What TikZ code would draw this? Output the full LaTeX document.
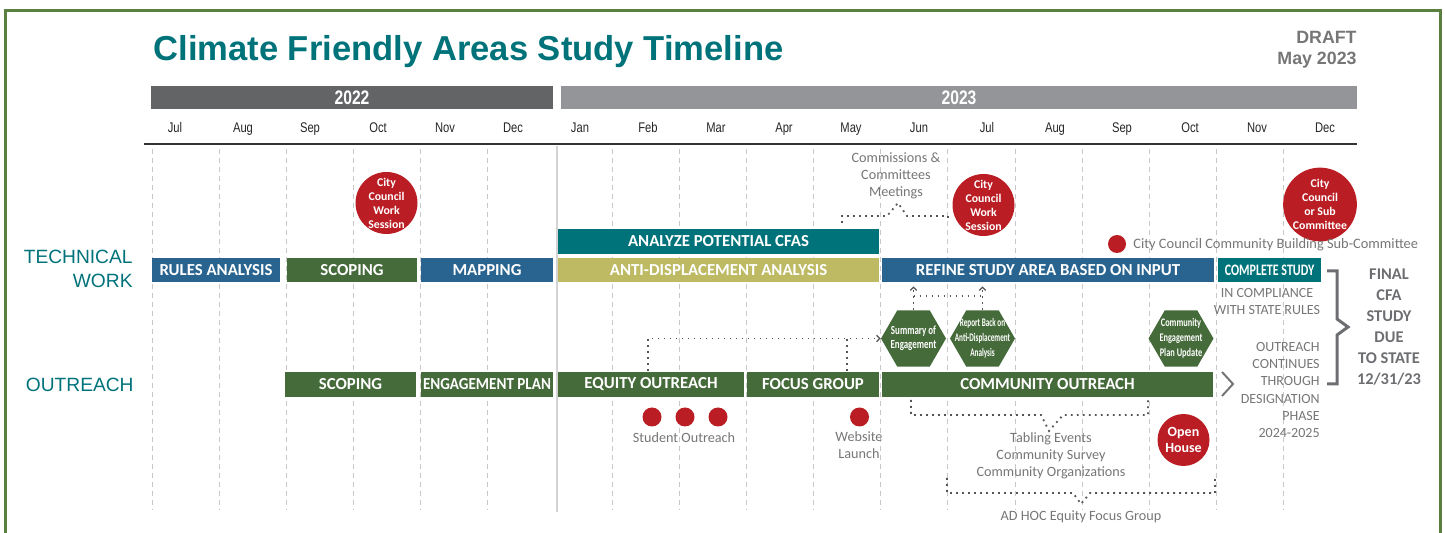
\documentclass[tikz,border=0pt]{standalone}
\usepackage{fontspec}
\setmainfont{Liberation Sans}
\newfontfamily\calfont{Carlito}
\newfontfamily\calnine[FakeStretch=0.9]{Carlito}
\newfontfamily\calcond[FakeStretch=0.75]{Carlito}
\newfontfamily\calhex[FakeStretch=0.72]{Carlito}
\newfontfamily\calxcond[FakeStretch=0.62]{Carlito}
\newfontfamily\arialnarrow[FakeStretch=0.8]{Liberation Sans}
\usetikzlibrary{shapes.geometric,arrows.meta}
\definecolor{cteal}{HTML}{00737A}
\definecolor{cblue}{HTML}{28648F}
\definecolor{cgreen}{HTML}{466B3A}
\definecolor{colive}{HTML}{BDBA63}
\definecolor{cred}{HTML}{BA1E24}
\definecolor{cyearA}{HTML}{636466}
\definecolor{cyearB}{HTML}{939598}
\definecolor{cgtext}{HTML}{767676}
\definecolor{cfinal}{HTML}{6D6E71}
\definecolor{cframe}{HTML}{5B7F3E}
\definecolor{cgrid}{HTML}{C8C8C8}
\definecolor{cdot}{HTML}{555555}
% [style]{name}{x1}{y1}{x2}{y2}{colour}{text}
\newcommand\tlbar[8][]{\node[barbox, #1, fill=#7, minimum width={(#5-#3)*0.5pt}, minimum height={(#6-#4)*0.5pt}] (#2) at ({(#3+#5)/2},{(#4+#6)/2}) {#8};}
\begin{document}
\begin{tikzpicture}[x=0.5pt,y=-0.5pt,
  barbox/.style={inner sep=0pt, text=white, font=\calfont\bfseries\fontsize{8.4}{10}\selectfont},
  yearbox/.style={font=\arialnarrow\bfseries\fontsize{9.8}{11}\selectfont},
  gridline/.style={draw=cgrid, line width=0.5pt, dash pattern=on 2.5pt off 2pt},
  monthlbl/.style={anchor=base, inner sep=0pt, text=black!85, font=\arialnarrow\fontsize{7}{8}\selectfont},
  redcirc/.style={circle, fill=cred, text=white, inner sep=0pt, align=center, minimum size=31pt,
    font=\calfont\bfseries\fontsize{5.9}{7}\selectfont},
  reddot/.style={circle, fill=cred, inner sep=0pt, minimum size=9.5pt},
  anno/.style={inner sep=0pt, text=cgtext, align=center, font=\calfont\fontsize{7.1}{8.4}\selectfont},
  hexa/.style={regular polygon, regular polygon sides=6, minimum size=32.5pt, fill=cgreen, inner sep=0pt},
  hextext/.style={inner sep=0pt, text=white, align=center},
  dotline/.style={draw=cdot, line width=0.9pt, dash pattern=on 0.9pt off 2.1pt},
  dottip/.style={-{Straight Barb[length=1.6pt,width=3.2pt,line width=0.6pt]}},
  rowlbl/.style={inner sep=0pt, text=cteal, align=right, font=\fontsize{9.6}{12}\selectfont}
]
\useasboundingbox (0,0) rectangle (1445,533);
% frame
\draw[cframe, line width=1.5pt] (5.5,545) -- (5.5,10.5) -- (1440.5,10.5) -- (1440.5,545);
% title
\node[anchor=base west, inner sep=0pt, text=cteal, font=\bfseries\fontsize{17.3}{20}\selectfont] (title) at (153,61) {Climate Friendly Areas Study Timeline};
\node[anchor=base east, inner sep=0pt, text=cgtext, font=\bfseries\fontsize{8.9}{10}\selectfont] (draft) at (1357,43.5) {DRAFT};
\node[anchor=base east, inner sep=0pt, text=cgtext, font=\bfseries\fontsize{8.9}{10}\selectfont] (dated) at (1357,65) {May 2023};
% year bars
\tlbar[yearbox]{y22}{151}{86}{553}{109}{cyearA}{2022}
\tlbar[yearbox]{y23}{561}{86}{1357}{109}{cyearB}{2023}
% months
\foreach \m/\x [count=\i] in {Jul/175,Aug/243,Sep/310,Oct/378,Nov/445,Dec/513,Jan/580,Feb/648,Mar/716,Apr/784,May/851,Jun/919,Jul/987,Aug/1055,Sep/1122,Oct/1190,Nov/1257,Dec/1325}
  \node[monthlbl] (mon\i) at (\x,132.5) {\m};
\draw[black!80, line width=1.1pt] (144,144) -- (1357,144);
% grid
\foreach \x in {152,219,286,353,420,487,612,679,746,813,880,947,1015,1082,1149,1216,1283}
  \draw[gridline] (\x,149) -- (\x,510);
\draw[draw=cgrid!80, line width=0.8pt] (557,146) -- (557,512);
% row labels
\node[rowlbl, anchor=east] (techlbl) at (133,269) {TECHNICAL\\WORK};
\node[rowlbl, anchor=east] (outlbl) at (134,385) {OUTREACH};
% technical bars
\tlbar{analyze}{558}{229}{879}{254}{cteal}{ANALYZE POTENTIAL CFAS}
\tlbar{rules}{152}{258}{280}{282}{cblue}{RULES ANALYSIS}
\tlbar{scopeA}{287}{258}{417}{282}{cgreen}{SCOPING}
\tlbar{mapping}{421}{258}{553}{282}{cblue}{MAPPING}
\tlbar{antidisp}{558}{258}{879}{282}{colive}{ANTI-DISPLACEMENT ANALYSIS}
\tlbar{refine}{882}{258}{1214}{282}{cblue}{REFINE STUDY AREA BASED ON INPUT}
\tlbar[font=\calcond\bfseries\fontsize{8}{10}\selectfont]{complete}{1218}{258}{1321}{282}{cteal}{COMPLETE STUDY}
% outreach bars
\tlbar{scopeB}{285}{372}{416}{397}{cgreen}{SCOPING}
\tlbar[font=\calnine\bfseries\fontsize{8.4}{10}\selectfont]{engplan}{421}{372}{553}{397}{cgreen}{ENGAGEMENT PLAN}
\tlbar{equity}{558}{372}{744}{397}{cgreen}{EQUITY OUTREACH}
\tlbar{focus}{747}{372}{879}{397}{cgreen}{FOCUS GROUP}
\tlbar{community}{882}{372}{1213}{397}{cgreen}{COMMUNITY OUTREACH}
% council circles
\node[redcirc] (ccA) at (386.5,203) {City\\Council\\Work\\Session};
\node[redcirc] (ccB) at (983.5,205) {City\\Council\\Work\\Session};
\node[redcirc] (ccC) at (1320,204.5) {City\\Council\\or Sub\\Committee};
\node[redcirc, minimum size=26pt, font=\calfont\bfseries\fontsize{7}{8}\selectfont] (openh) at (1183.5,440) {Open\\House};
% legend dot
\node[reddot, minimum size=9pt] (legdot) at (1117,244) {};
\node[anno, anchor=west, font=\calfont\fontsize{7.2}{8.4}\selectfont] (legtxt) at (1133,245) {City Council Community Building Sub-Committee};
% commissions
\node[anno] (comm) at (896,176) {Commissions \&\\Committees\\Meetings};
\draw[dotline] (842,223) -- (842,216) -- (887,216) -- (898,203) -- (907,216) -- (948,216) -- (948,222);
% hexagons
\node[hexa] (hexA) at (913.5,338.5) {};
\node[hextext, font=\calhex\bfseries\fontsize{6.2}{7}\selectfont] (hexAt) at (hexA) {Summary of\\Engagement};
\node[hexa] (hexB) at (982.5,338.5) {};
\node[hextext, font=\calxcond\bfseries\fontsize{5.8}{7.6}\selectfont] (hexBt) at (hexB) {Report Back on\\Anti-Displacement\\Analysis};
\node[hexa] (hexC) at (1181,338.5) {};
\node[hextext, font=\calhex\bfseries\fontsize{5.8}{7.5}\selectfont] (hexCt) at (hexC) {Community\\Engagement\\Plan Update};
% connectors to hexagons
\coordinate (eqA) at (648,371);
\coordinate (fcA) at (847,371);
\draw[dotline, dottip] (eqA) |- (hexA.west);
\draw[dotline] (fcA) -- (fcA |- hexA.west);
\draw[dotline, dottip, shorten >=2pt] (hexA.north) -- (hexA.north |- refine.south);
\draw[dotline, dottip, shorten >=2pt] (hexB.north) -- (hexB.north |- refine.south);
\draw[dotline] ([yshift=7pt]hexA.north) -- ([yshift=7pt]hexB.north);
% outreach dots and labels
\node[reddot] (stA) at (652,417) {};
\node[reddot] (stB) at (685,417) {};
\node[reddot] (stC) at (718,417) {};
\node[anno] (sttxt) at (684,437.5) {Student Outreach};
\node[reddot] (web) at (859.5,417) {};
\node[anno] (webtxt) at (859,445) {Website\\Launch};
% tabling bracket
\draw[dotline] (911,400) -- (911,415) -- (1041,415) -- (1049,431) -- (1063,415) -- (1148,415) -- (1148,400);
\node[anno] (tabling) at (1051,456) {Tabling Events\\Community Survey\\Community Organizations};
% ad hoc bracket
\draw[dotline] (947,478) -- (947,493) -- (1073,493) -- (1081,504) -- (1090,493) -- (1215,493) -- (1215,479);
\node[anno] (adhoc) at (1081,517) {AD HOC Equity Focus Group};
% right side texts
\node[anno, font=\calfont\fontsize{7}{8.5}\selectfont] (compl) at (1267,301.5) {IN COMPLIANCE\\WITH STATE RULES};
\node[anno, anchor=east, align=right, font=\calfont\fontsize{7}{8.6}\selectfont] (contin) at (1320,390) {OUTREACH\\CONTINUES\\THROUGH\\DESIGNATION\\PHASE\\2024-2025};
\draw[cgtext, line width=1pt] (1222,372) -- (1233,384) -- (1222,396);
\draw[cfinal, line width=1.5pt, line join=miter] (1327,271) -- (1337,271) -- (1337,319) -- (1348,327) -- (1337,335) -- (1337,384) -- (1327,384);
\node[inner sep=0pt, text=cfinal, align=center, font=\calfont\bfseries\fontsize{8.2}{10.5}\selectfont] (final) at (1389,327.5) {FINAL\\CFA\\STUDY\\DUE\\TO STATE\\12/31/23};
\end{tikzpicture}
\end{document}
